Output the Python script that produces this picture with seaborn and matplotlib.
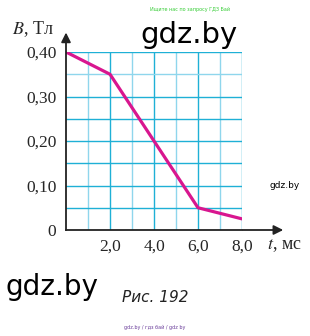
import matplotlib
matplotlib.use("Agg")
import matplotlib.pyplot as plt
import seaborn as sns
import pandas as pd
import numpy as np

t_ms = [0, 2, 6, 8]
B_T = [0.40, 0.35, 0.05, 0.025]
x_ticks = [2, 4, 6, 8]
x_labels = ["2,0", "4,0", "6,0", "8,0"]
y_ticks = [0, 0.10, 0.20, 0.30, 0.40]
y_labels = ["0", "0,10", "0,20", "0,30", "0,40"]

sns.set_theme(style="white")
plt.rcParams['font.family'] = ['Liberation Serif', 'DejaVu Serif']
plt.rcParams['mathtext.fontset'] = 'stix'

fig = plt.figure(figsize=(3.1, 3.36), dpi=100)
ax = fig.add_axes([66/310, 1-230/336, 176/310, 178/336])

df = pd.DataFrame({"t": t_ms, "B": B_T})

# grid
grid_col = "#1fb0d6"
light_col = "#8fd6ec"
for gx in np.arange(1, 9, 1):
    ax.axvline(gx, color=grid_col if gx % 2 == 0 else light_col, lw=1.0, zorder=1)
for k, gy in enumerate(np.arange(0.05, 0.401, 0.05)):
    ax.axhline(gy, color=light_col if k == 6 else grid_col, lw=1.0, zorder=1)

sns.lineplot(data=df, x="t", y="B", ax=ax, color="#d8168f", lw=2.3, zorder=3)

ax.set_xlim(0, 8)
ax.set_ylim(0, 0.40)
for s in ["top", "right"]:
    ax.spines[s].set_visible(False)
for s in ["left", "bottom"]:
    ax.spines[s].set_color("#222222")
    ax.spines[s].set_linewidth(1.3)
    ax.spines[s].set_zorder(4)

ax.set_xticks(x_ticks)
ax.set_xticklabels(x_labels, fontsize=12.5)
ax.set_yticks(y_ticks)
ax.set_yticklabels(y_labels, fontsize=12.5)
ax.tick_params(axis="x", direction="inout", length=9, width=1.3, color="#222222", pad=2)
ax.tick_params(axis="y", direction="out", length=5, width=1.3, color="#222222", pad=2)
ax.set_xlabel("")
ax.set_ylabel("")

# arrows
ax.annotate("", xy=(1.25, 0), xytext=(0.99, 0), xycoords="axes fraction",
            arrowprops=dict(arrowstyle="-|>", color="#222222", lw=1.3, mutation_scale=14),
            annotation_clip=False)
ax.annotate("", xy=(0, 1.125), xytext=(0, 0.99), xycoords="axes fraction",
            arrowprops=dict(arrowstyle="-|>", color="#222222", lw=1.3, mutation_scale=14),
            annotation_clip=False)

fig.text(12/310, 1-29/336, "$B$, Тл", fontsize=13, va="center", ha="left")
fig.text(267/310, 1-246/336, "$t$, мс", fontsize=13, va="center", ha="left")

# watermarks / captions
sans = ['DejaVu Sans']
fig.text(190/310, 1-9/336, "Ищите нас по запросу ГДЗ Бай", fontsize=3.5, color="#33cc33",
         ha="center", va="center", family=sans)
fig.text(189/310, 1-35/336, "gdz.by", fontsize=21, color="black", ha="center", va="center", family=sans)
fig.text(285/310, 1-186/336, "gdz.by", fontsize=6.5, color="black", ha="center", va="center", family=sans)
fig.text(52/310, 1-287/336, "gdz.by", fontsize=20, color="black", ha="center", va="center", family=sans)
fig.text(155/310, 1-298/336, "Рис. 192", fontsize=11, style="italic", color="#222222",
         ha="center", va="center", family=sans)
fig.text(155/310, 1-327/336, "gdz.by / гдз бай / gdz by", fontsize=3.5, color="#6a3d9a",
         ha="center", va="center", family=sans)

fig.savefig("out.png", dpi=100)
